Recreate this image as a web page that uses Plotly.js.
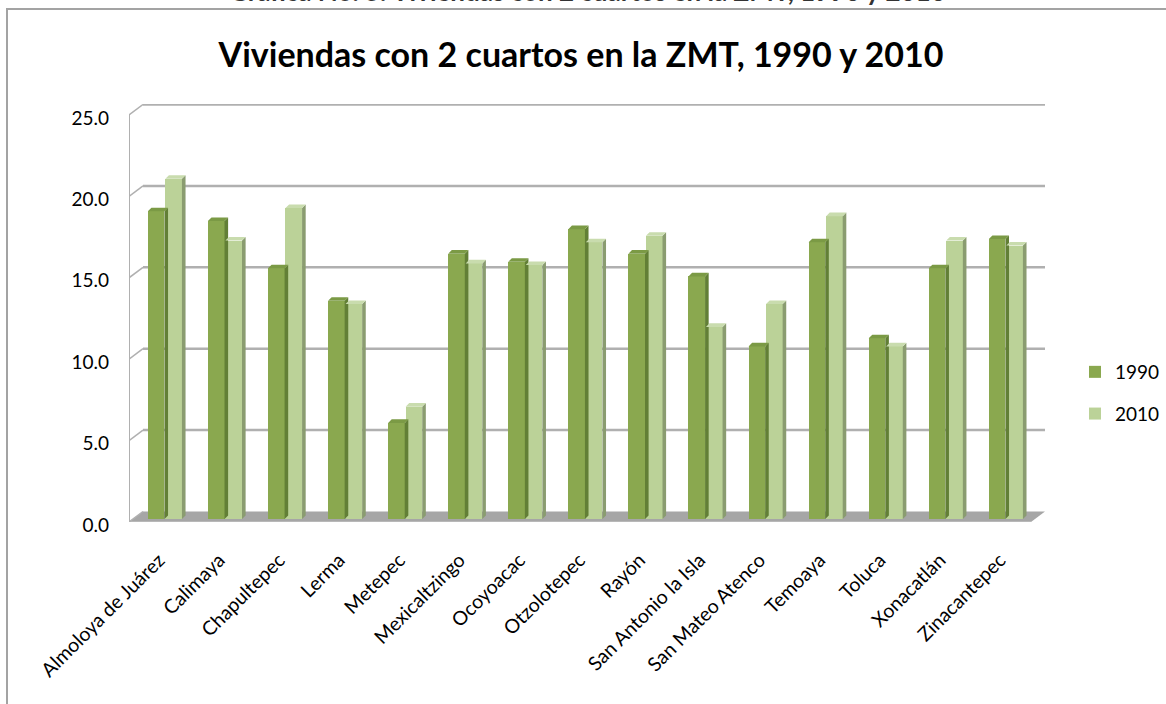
<!DOCTYPE html>
<html>
<head>
<meta charset="utf-8">
<script src="https://cdn.plot.ly/plotly-3.0.1.min.js"></script>
<style>html,body{margin:0;padding:0;background:#fff;overflow:hidden}#chart{width:1166px;height:704px}</style>
</head>
<body>
<div id="chart"></div>
<script>
const categories = ["Almoloya de Juárez","Calimaya","Chapultepec","Lerma","Metepec","Mexicaltzingo","Ocoyoacac","Otzolotepec","Rayón","San Antonio la Isla","San Mateo Atenco","Temoaya","Toluca","Xonacatlán","Zinacantepec"];
const values1990 = [18.9,18.3,15.4,13.4,5.9,16.3,15.8,17.8,16.3,14.9,10.6,17.0,11.1,15.4,17.2];
const values2010 = [20.9,17.1,19.1,13.2,6.9,15.7,15.6,17.0,17.4,11.8,13.2,18.6,10.6,17.1,16.8];
const yTicks = [0,5,10,15,20,25];
const yTickLabels = ["0.0","5.0","10.0","15.0","20.0","25.0"];
const titleText = "Viviendas con 2 cuartos en la ZMT, 1990 y 2010";
const captionText = "Gráfica No. 5. Viviendas con 2 cuartos en la ZMT, 1990 y 2010";

// plot geometry (pixels on the page)
const L = 129, R = 1045, T = 104, B = 522, W = 1166, H = 704;
const pxX = 60.07, pxY = 16.28;            // pixels per category, per unit
const xMin = -0.6, xMax = xMin + (R - L) / pxX;
const yMax = (B - T) / pxY;
// 3D depth expressed in axis units
const wallDx = 14 / pxX, wallDy = 10.5 / pxY;
const barBase = 3 / pxY;
const barDx = 3.6 / pxX, barDy = 3.6 / pxY;
const barW = 16.6 / pxX;
const off1 = -17.2 / pxX, off2 = 0.3 / pxX;

const paperX = p => (p - L) / (R - L);
const paperY = p => (B - p) / (B - T);

function faces(vals, off) {
  const side = {x: [], y: []}, top = {x: [], y: []};
  vals.forEach((v, i) => {
    const a = i + off, b = a + barW, t = barBase + v;
    side.x.push(b, b + barDx, b + barDx, b, b, null);
    side.y.push(barBase, barBase + barDy, t + barDy, t, barBase, null);
    top.x.push(a, b, b + barDx, a + barDx, a, null);
    top.y.push(t, t, t + barDy, t + barDy, t, null);
  });
  return {side, top};
}
function poly(d, color) {
  return {type: 'scatter', mode: 'lines', x: d.x, y: d.y, fill: 'toself', fillcolor: color,
          line: {width: 0, color: color}, showlegend: false, hoverinfo: 'skip'};
}
const idx = categories.map((_, i) => i);
const f1 = faces(values1990, off1), f2 = faces(values2010, off2);

const traces = [
  {type: 'bar', name: '1990', x: idx, y: values1990, base: barBase, width: barW, offset: off1,
   marker: {color: '#8aa84f', line: {width: 0}}, legendgroup: 'a'},
  {type: 'bar', name: '2010', x: idx, y: values2010, base: barBase, width: barW, offset: off2,
   marker: {color: '#bbd298', line: {width: 0}}, legendgroup: 'b'},
  poly(f1.side, '#627f36'), poly(f1.top, '#7b9a45'),
  poly(f2.side, '#8a9c70'), poly(f2.top, '#c9dcae')
];

const gridColor = '#b0b0b0';
const shapes = [];
// floor
shapes.push({type: 'path', layer: 'below', xref: 'x', yref: 'y', line: {width: 0}, fillcolor: '#a6a6a6',
  path: `M ${xMin} 0 L ${xMax - wallDx} 0 L ${xMax} ${wallDy} L ${xMin + wallDx} ${wallDy} Z`});
shapes.push({type: 'line', layer: 'below', xref: 'x', yref: 'y', x0: xMin, x1: xMax - wallDx, y0: 0, y1: 0,
  line: {color: '#b8b8b8', width: 2}});
// back wall grid and the left wall ticks
yTicks.forEach(v => {
  if (v > 0) shapes.push({type: 'line', layer: 'below', xref: 'x', yref: 'y',
    x0: xMin + wallDx, x1: xMax, y0: v + wallDy, y1: v + wallDy, line: {color: gridColor, width: 2.5}});
  shapes.push({type: 'line', layer: 'below', xref: 'x', yref: 'y',
    x0: xMin, x1: xMin + wallDx, y0: v, y1: v + wallDy, line: {color: gridColor, width: 1.5}});
});
shapes.push({type: 'line', layer: 'below', xref: 'x', yref: 'y', x0: xMin, x1: xMin, y0: 0, y1: 25,
  line: {color: gridColor, width: 2}});
// outer frame, running off the right and bottom of the page
shapes.push({type: 'rect', layer: 'below', xref: 'paper', yref: 'paper',
  x0: paperX(7), x1: paperX(W + 10), y0: paperY(H + 10), y1: paperY(9),
  line: {color: '#a3a3a3', width: 2}, fillcolor: 'rgba(0,0,0,0)'});

const layout = {
  width: W, height: H,
  margin: {l: L, r: W - R, t: T, b: H - B, pad: 0, autoexpand: false},
  paper_bgcolor: '#fff', plot_bgcolor: 'rgba(0,0,0,0)',
  font: {family: 'Lato, "Open Sans", sans-serif', color: '#000', size: 16},
  title: {text: '<b>' + titleText + '</b>', font: {family: 'Lato, sans-serif', size: 34, color: '#000'},
          x: (217 + 945) / 2 / W, xanchor: 'center', y: 1 - 55 / H, yanchor: 'middle', automargin: false},
  bargap: 0, barmode: 'overlay', showlegend: true,
  legend: {x: paperX(1075), xanchor: 'left', y: paperY(353), yanchor: 'top', bgcolor: 'rgba(0,0,0,0)',
           font: {size: 19}, tracegroupgap: 14, traceorder: 'grouped', itemwidth: 30},
  xaxis: {type: 'linear', range: [xMin, xMax], tickmode: 'array', tickvals: idx.map(i => i - 6 / pxX), ticktext: categories,
          tickangle: -45, showgrid: false, zeroline: false, showline: false, ticks: '', ticklen: 0,
          tickfont: {size: 19.5}, automargin: false, ticklabelstandoff: 22},
  yaxis: {type: 'linear', range: [0, yMax], tickmode: 'array', tickvals: yTicks, ticktext: yTickLabels,
          showgrid: false, zeroline: false, showline: false, ticks: '', tickfont: {size: 19},
          ticklabelstandoff: 19, ticklabelshift: 3, automargin: false},
  shapes: shapes,
  annotations: [{xref: 'paper', yref: 'paper', x: paperX(587), y: paperY(-9), xanchor: 'center', yanchor: 'middle',
                 text: '<b>' + captionText + '</b>', showarrow: false, font: {size: 26, color: '#333'}}]
};
Plotly.newPlot('chart', traces, layout, {staticPlot: true, displayModeBar: false});
</script>
</body>
</html>
